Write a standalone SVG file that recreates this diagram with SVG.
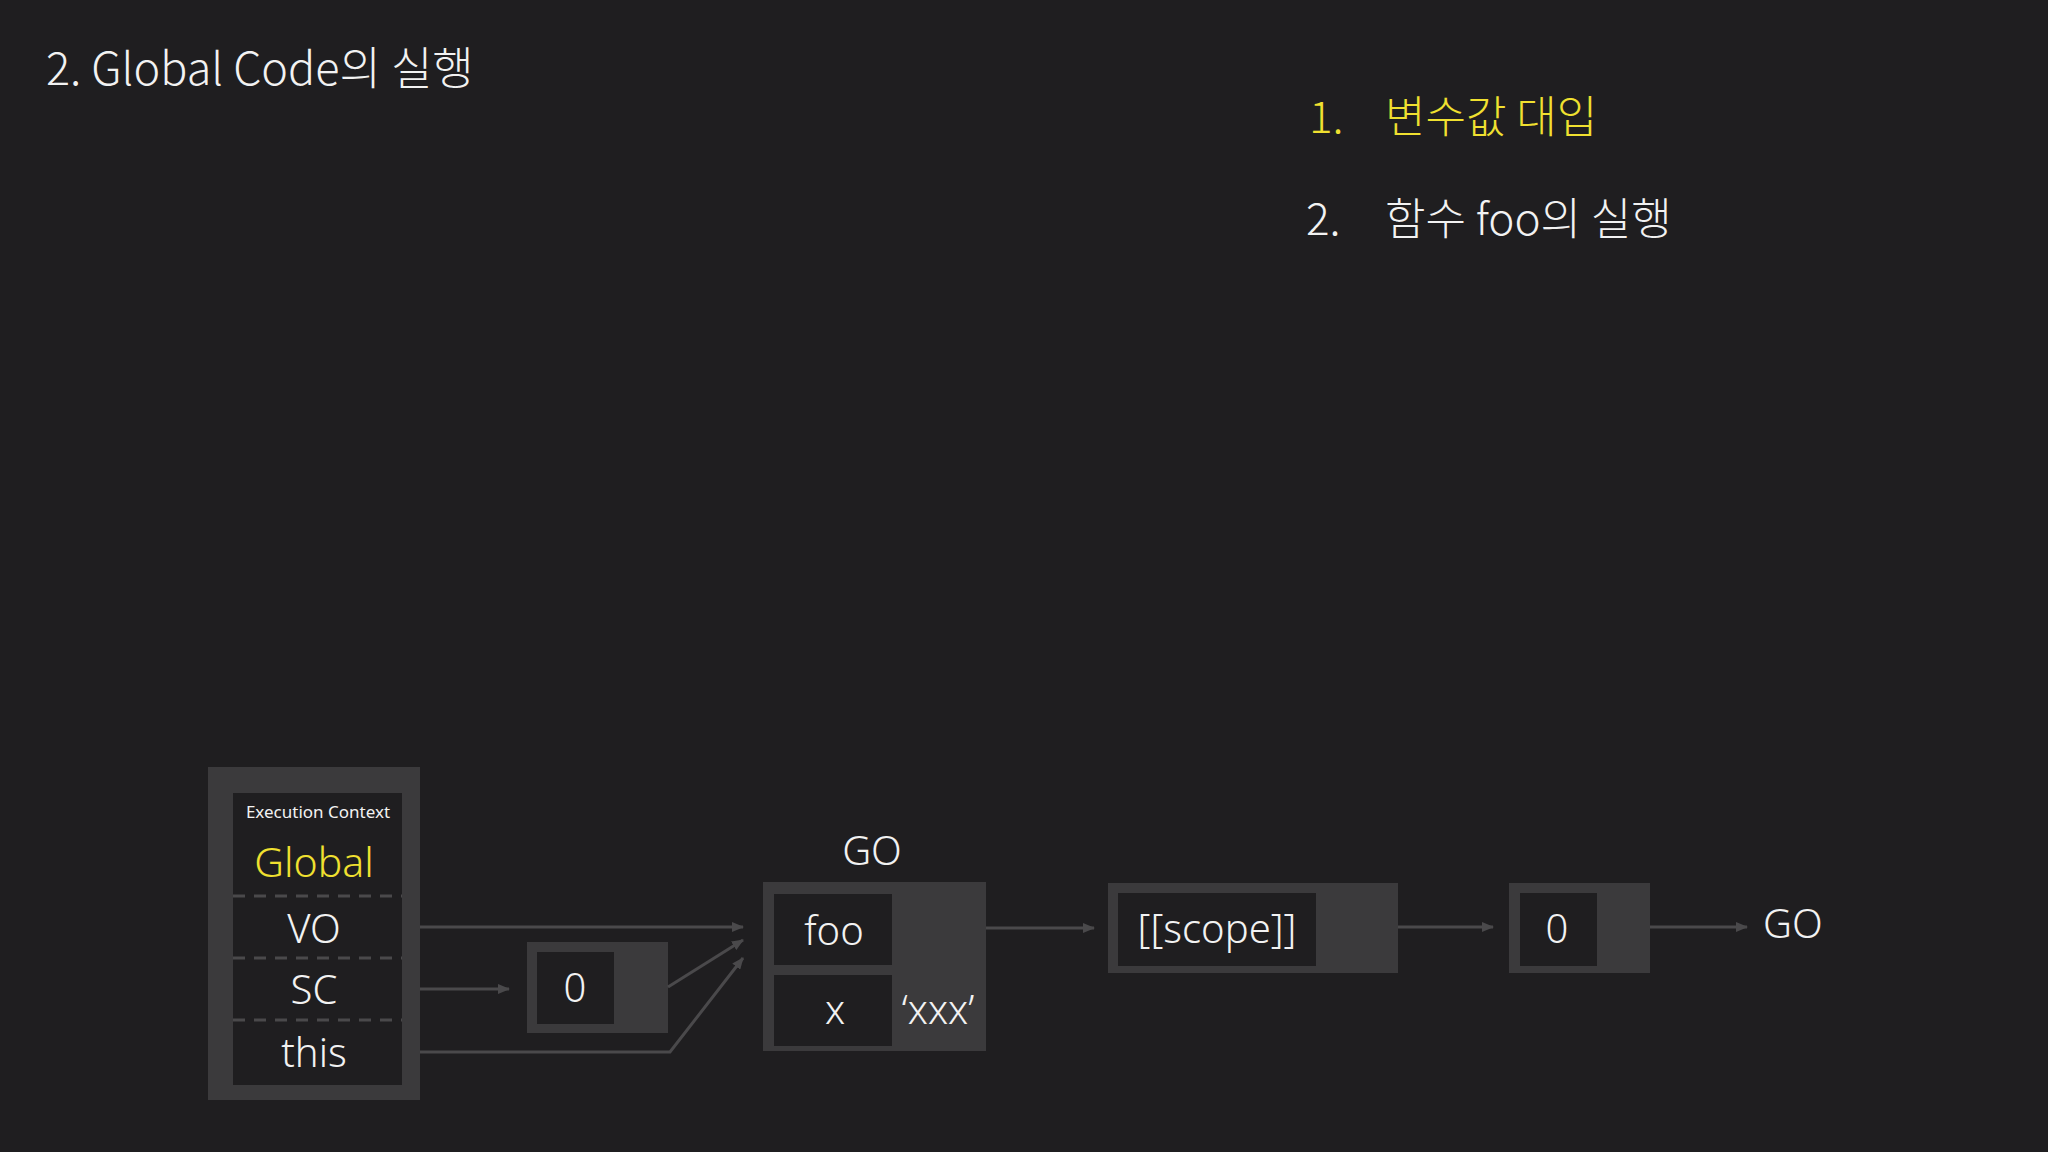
<svg xmlns="http://www.w3.org/2000/svg" width="2048" height="1152" viewBox="0 0 2048 1152">
<defs>
<style>
text{font-family:"Noto Sans","Noto Sans CJK KR",sans-serif;fill:#f2f2f2;font-weight:300}
.k{font-family:"Noto Sans CJK KR","Noto Sans",sans-serif}
.y{fill:#f0e030}
.c{text-anchor:middle}
.outer{fill:#3b3a3c}
.inner{fill:#1f1e20}
.dash{stroke:#4a494b;stroke-width:3;stroke-dasharray:12 9}
.con{stroke:#4a494b;stroke-width:3;fill:none}
</style>
<marker id="ah" markerWidth="12" markerHeight="10" refX="11" refY="5" orient="auto" markerUnits="userSpaceOnUse">
<path d="M0,0 L12,5 L0,10 z" fill="#4a494b"/>
</marker>
</defs>
<rect width="2048" height="1152" fill="#1f1e20"/>
<text class="k" x="46" y="85" font-size="45">2. Global Code의 실행</text>
<g id="step1"><text class="k y" x="1309" y="133" font-size="44">1.</text><text class="k y" x="1385" y="133" font-size="44">변수값 대입</text></g>
<g id="step2"><text class="k" x="1306" y="235" font-size="44">2.</text><text class="k" x="1385" y="235" font-size="44">함수 foo의 실행</text></g>

<g id="ec">
<rect class="outer" x="208" y="767" width="212" height="333"/>
<rect class="inner" x="233" y="793" width="169" height="292"/>
<line class="dash" x1="233" y1="896" x2="402" y2="896"/>
<line class="dash" x1="233" y1="958" x2="402" y2="958"/>
<line class="dash" x1="233" y1="1020" x2="402" y2="1020"/>
<text class="c" x="318" y="818" font-size="17" style="font-weight:400">Execution Context</text>
<text class="c y" x="314" y="877" font-size="41">Global</text>
<text class="c" x="314" y="943" font-size="40">VO</text>
<text class="c" x="314" y="1004" font-size="40">SC</text>
<text class="c" x="314" y="1067" font-size="40">this</text>
</g>

<g id="sc0">
<rect class="outer" x="527" y="942" width="141" height="91"/>
<rect class="inner" x="537" y="952" width="77" height="72"/>
<text class="c" x="575" y="1002" font-size="40">0</text>
</g>

<g id="go">
<text class="c" x="872" y="865" font-size="40">GO</text>
<rect class="outer" x="763" y="882" width="223" height="169"/>
<rect class="inner" x="774" y="894" width="118" height="71"/>
<rect class="inner" x="774" y="975" width="118" height="71"/>
<text class="c" x="834" y="945" font-size="40">foo</text>
<text class="c" x="835" y="1024" font-size="40">x</text>
<text class="c" x="938" y="1024" font-size="40">‘xxx’</text>
</g>

<g id="scope">
<rect class="outer" x="1108" y="883" width="290" height="90"/>
<rect class="inner" x="1118" y="893" width="198" height="73"/>
<text class="c" x="1217" y="943" font-size="40">[[scope]]</text>
</g>

<g id="sc1">
<rect class="outer" x="1509" y="883" width="141" height="90"/>
<rect class="inner" x="1520" y="893" width="77" height="73"/>
<text class="c" x="1557" y="943" font-size="40">0</text>
</g>

<g id="go2"><text x="1763" y="938" font-size="40">GO</text></g>

<g id="connectors">
<line class="con" x1="420" y1="927" x2="743" y2="927" marker-end="url(#ah)"/>
<line class="con" x1="420" y1="989" x2="509" y2="989" marker-end="url(#ah)"/>
<line class="con" x1="668" y1="987" x2="743" y2="940" marker-end="url(#ah)"/>
<polyline class="con" points="420,1052 670,1052 743,958" marker-end="url(#ah)"/>
<line class="con" x1="986" y1="928" x2="1094" y2="928" marker-end="url(#ah)"/>
<line class="con" x1="1398" y1="927" x2="1493" y2="927" marker-end="url(#ah)"/>
<line class="con" x1="1650" y1="927" x2="1747" y2="927" marker-end="url(#ah)"/>
</g>
</svg>
